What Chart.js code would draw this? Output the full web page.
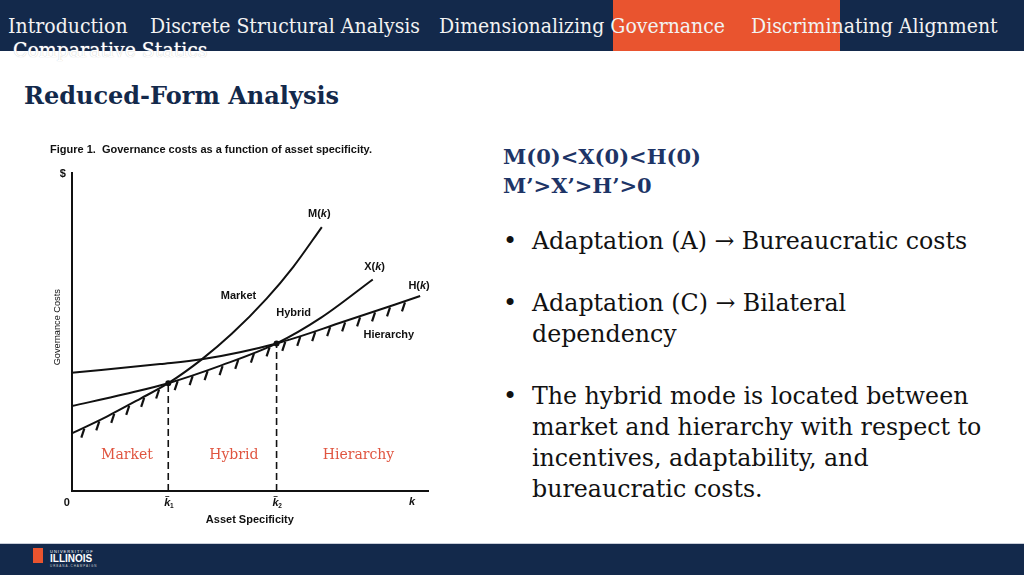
<!DOCTYPE html>
<html>
<head>
<meta charset="utf-8">
<script src="https://cdn.jsdelivr.net/npm/chart.js@4.4.1/dist/chart.umd.min.js"></script>
<style>
  body { margin:0; width:1024px; height:575px; overflow:hidden; background:#fff; position:relative; font-family:"DejaVu Serif", serif; }
  .nav { position:absolute; left:0; top:0; width:1024px; height:51px; background:#13294B; }
  .hl { position:absolute; left:613px; top:0; width:227px; height:51px; background:#E9542F; }
  .navtxt { position:absolute; top:14px; color:#f2f2f2; font-family:"DejaVu Serif Condensed","DejaVu Serif",serif; font-size:21px; white-space:nowrap; }
  .nav2 { position:absolute; left:13px; top:38px; color:#fff; font-family:"DejaVu Serif Condensed","DejaVu Serif",serif; font-size:21px; text-shadow:0 0 1px #bbb; white-space:nowrap; }
  h1 { position:absolute; left:24px; top:81px; margin:0; font-size:24px; color:#13294B; font-weight:bold; }
  .eq { position:absolute; left:503px; top:142px; color:#1d3466; font-weight:bold; font-size:21px; line-height:29px; }
  ul { position:absolute; left:532px; top:226px; margin:0; padding:0; width:458px; font-size:23.7px; line-height:31px; color:#111; list-style:none; }
  li { margin-bottom:31px; position:relative; }
  li::before { content:"•"; position:absolute; left:-29px; top:0; font-size:24px; }
  .foot { position:absolute; left:0; top:543px; width:1024px; height:32px; background:#13294B; border-top:1px solid #c8cdd8; }
  .logoI { position:absolute; left:33px; top:548px; width:10px; height:15px; background:#E9542F; }
  .logoT { position:absolute; left:50px; top:549px; color:#fff; font-family:"Liberation Sans",sans-serif; }
  #chartBox { position:absolute; left:40px; top:135px; width:400px; height:400px; }
</style>
</head>
<body>
<div class="nav"></div>
<div class="hl"></div>
<div class="navtxt" style="left:8px">Introduction</div>
<div class="navtxt" style="left:150px">Discrete Structural Analysis</div>
<div class="navtxt" style="left:439px">Dimensionalizing Governance</div>
<div class="navtxt" style="left:751px">Discriminating Alignment</div>
<div class="nav2">Comparative Statics</div>
<h1>Reduced-Form Analysis</h1>
<div class="eq">M(0)&lt;X(0)&lt;H(0)<br>M’&gt;X’&gt;H’&gt;0</div>
<ul>
  <li>Adaptation (A) → Bureaucratic costs</li>
  <li>Adaptation (C) → Bilateral dependency</li>
  <li>The hybrid mode is located between market and hierarchy with respect to incentives, adaptability, and bureaucratic costs.</li>
</ul>
<div id="chartBox"><canvas id="mycanvas" width="400" height="400"></canvas></div>
<div class="foot"></div>
<div class="logoI"></div>
<div class="logoT"><div style="font-size:4px;letter-spacing:1px">UNIVERSITY OF</div><div style="font-size:10px;font-weight:bold;line-height:10px">ILLINOIS</div><div style="font-size:3px;letter-spacing:1px;color:#ccc">URBANA-CHAMPAIGN</div></div>

<script>
// asset specificity k (0..100) and governance cost (0..100)
var marketK = [0, 10, 19.2, 27.1, 36.5, 45, 54.7, 62.2, 70.2];
var marketCost = [18.1, 23.5, 29.0, 33.9, 41.4, 49.5, 60.5, 70.5, 83.0];
var hybridK = [0, 15, 27.1, 42, 57.5, 70, 84.5];
var hybridCost = [26.7, 30.5, 33.9, 39.5, 46.4, 54.5, 66.5];
var hierK = [0, 24.8, 36.5, 57.5, 76.2, 97.8];
var hierCost = [37.2, 39.9, 41.4, 46.4, 53.2, 61.3];
var switchK = [27.1, 57.5];
var switchCost = [33.9, 46.4];
var hatchK = [3.4, 7.6, 11.8, 16, 20.2, 24.4, 29.6, 33.8, 38, 42.2, 46.6, 51, 55.4, 59.8, 64, 68.2, 72.4, 76.6, 80.8, 85, 89.2, 93.4];
var curveNames = ['M', 'X', 'H'];
var curveLabelK = [69.5, 85, 97.5];
var curveLabelCost = [87, 70.5, 64.5];
var modeNames = ['Market', 'Hybrid', 'Hierarchy'];
var modeK = [46.8, 62.3, 89];
var modeCost = [61.3, 56, 49];
var regionLabels = ['Market', 'Hybrid', 'Hierarchy'];
var regionK = [15.5, 45.5, 80.5];

function pts(xs, ys) {
  var out = [];
  for (var i in xs) out.push({x: xs[i], y: ys[i]});
  return out;
}
function interp(xs, ys, k) {
  if (k < xs[0] || k > xs[xs.length - 1]) return null;
  for (var i = 1; i < xs.length; i++) {
    if (k <= xs[i]) {
      var t = (k - xs[i-1]) / (xs[i] - xs[i-1]);
      return ys[i-1] + t * (ys[i] - ys[i-1]);
    }
  }
  return null;
}

var curve = {showLine: true, borderColor: '#111', borderWidth: 2, pointRadius: 0, cubicInterpolationMode: 'monotone', fill: false};
var BOLD = 'bold 11px "Liberation Sans", Arial, sans-serif';
var BOLDIT = 'bold italic 11px "Liberation Sans", Arial, sans-serif';

var figText = {
  id: 'figText',
  afterDatasetsDraw: function(chart) {
    var c = chart.ctx, xs = chart.scales.x, ys = chart.scales.y, a = chart.chartArea;
    // hatching under the lower envelope
    c.save();
    c.strokeStyle = '#111'; c.lineWidth = 2.2;
    hatchK.forEach(function(k) {
      var v = [interp(marketK, marketCost, k), interp(hybridK, hybridCost, k), interp(hierK, hierCost, k)].filter(function(q){ return q !== null; });
      var y = Math.min.apply(null, v);
      var px = xs.getPixelForValue(k), py = ys.getPixelForValue(y);
      c.beginPath(); c.moveTo(px + 0.5, py + 1); c.lineTo(px - 2.5, py + 10); c.stroke();
    });
    c.restore();

    c.save();
    c.fillStyle = '#111';
    c.textBaseline = 'middle';
    c.font = BOLD;
    c.textAlign = 'left';
    c.fillText('Figure 1.  Governance costs as a function of asset specificity.', 10, 15);
    c.textAlign = 'center';
    c.fillText('$', a.left - 9, a.top + 1);
    curveNames.forEach(function(label, i) {
      var px = xs.getPixelForValue(curveLabelK[i]), py = ys.getPixelForValue(curveLabelCost[i]);
      c.textAlign = 'left';
      c.font = BOLD;
      var w1 = c.measureText(label + '(').width;
      c.font = BOLDIT;
      var w2 = c.measureText('k').width;
      c.font = BOLD;
      var w = w1 + w2 + c.measureText(')').width;
      var x0 = px - w / 2;
      c.fillText(label + '(', x0, py);
      c.font = BOLDIT;
      c.fillText('k', x0 + w1, py);
      c.font = BOLD;
      c.fillText(')', x0 + w1 + w2, py);
    });
    c.textAlign = 'center';
    c.font = BOLD;
    modeNames.forEach(function(t, i) {
      c.fillText(t, xs.getPixelForValue(modeK[i]), ys.getPixelForValue(modeCost[i]));
    });
    c.fillText('Asset Specificity', xs.getPixelForValue(50), a.bottom + 29);
    c.fillText('0', a.left - 5, a.bottom + 12);
    c.font = BOLDIT;
    c.fillText('k', xs.getPixelForValue(95.5), a.bottom + 11);
    switchK.forEach(function(k, i) {
      var px = xs.getPixelForValue(k);
      c.font = BOLDIT;
      c.fillText('k', px - 1, a.bottom + 12);
      c.font = 'bold 6.5px "Liberation Sans", Arial, sans-serif';
      c.fillText(String(i + 1), px + 3.5, a.bottom + 15);
      c.fillRect(px - 3, a.bottom + 5, 4, 0.8);
    });
    c.font = '9.2px "Liberation Sans", Arial, sans-serif';
    c.translate(a.left - 14, ys.getPixelForValue(51.5));
    c.rotate(-Math.PI / 2);
    c.fillText('Governance Costs', 0, 0);
    c.restore();

    c.save();
    c.fillStyle = '#E05540';
    c.font = '14px "DejaVu Serif", serif';
    c.textAlign = 'center'; c.textBaseline = 'middle';
    regionLabels.forEach(function(t, i) {
      c.fillText(t, xs.getPixelForValue(regionK[i]), a.bottom - 36);
    });
    c.restore();
  }
};

var datasets = [
  Object.assign({label: 'M(k)', data: pts(marketK, marketCost)}, curve),
  Object.assign({label: 'X(k)', data: pts(hybridK, hybridCost)}, curve),
  Object.assign({label: 'H(k)', data: pts(hierK, hierCost)}, curve)
];
switchK.forEach(function(k, i) {
  datasets.push({label: 'k' + (i + 1), data: [{x: k, y: 0}, {x: k, y: switchCost[i]}], showLine: true,
    borderColor: '#111', borderWidth: 1.6, borderDash: [7, 4], pointRadius: 0});
});
datasets.push({label: 'switch', data: pts(switchK, switchCost), showLine: false,
  pointRadius: 3, pointBackgroundColor: '#111', pointBorderWidth: 0});

var ctx = document.getElementById('mycanvas');
var graph = new Chart(ctx, {
  type: 'scatter',
  data: {datasets: datasets},
  options: {
    responsive: false,
    animation: false,
    layout: {padding: {left: 31.7, right: 12, top: 38, bottom: 44}},
    plugins: {legend: {display: false}, tooltip: {enabled: false}},
    scales: {
      x: {min: 0, max: 100, ticks: {display: false}, grid: {display: false, drawTicks: false}, border: {display: true, color: '#111', width: 2}},
      y: {min: 0, max: 100, ticks: {display: false}, grid: {display: false, drawTicks: false}, border: {display: true, color: '#111', width: 2}}
    }
  },
  plugins: [figText]
});
</script>
</body>
</html>
